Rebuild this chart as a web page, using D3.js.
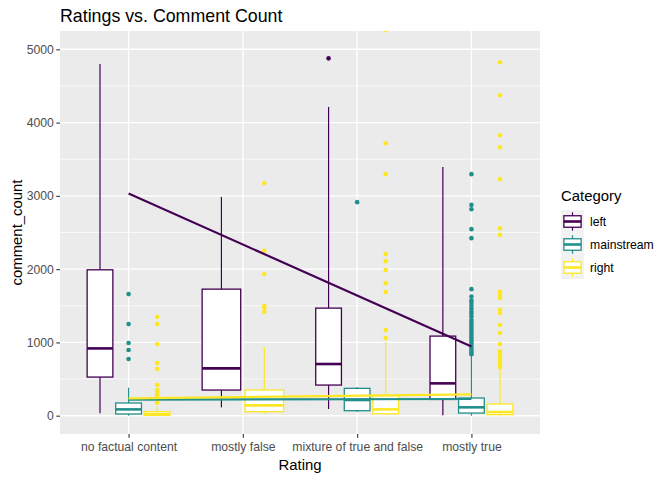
<!DOCTYPE html>
<html lang="en">
<head>
<meta charset="utf-8" />
<title>Ratings vs. Comment Count</title>
<style>
  body { margin: 0; padding: 0; background: #fff; }
  svg text { font-family: "Liberation Sans", Arial, sans-serif; }
</style>
<script src="https://d3js.org/d3.v7.min.js"></script>
</head>
<body>
<div id="chart"></div>
<script>
// ratings on the x axis, groups in the legend
const ratings = ["no factual content", "mostly false", "mixture of true and false", "mostly true"];
const categories = ["left", "mainstream", "right"];
const colors = ["#440154", "#21908C", "#FDE725"];
const yTicks = [0, 1000, 2000, 3000, 4000, 5000];
const yMinor = [500, 1500, 2500, 3500, 4500];

// [lower whisker, q1, median, q3, upper whisker] per rating (null = no data)
const leftStats = [[32, 527, 918, 1991, 4800], [114, 350, 645, 1727, 2986], [91, 418, 705, 1468, 4214], [5, 222, 441, 1086, 3395]];
const mainstreamStats = [[0, 23, 86, 173, 382], null, [50, 68, 214, 373, 391], [0, 36, 114, 241, 818]];
const rightStats = [[0, 5, 20, 55, 123], [23, 55, 141, 350, 937], [14, 27, 86, 273, 1005], [0, 14, 50, 159, 636]];

const leftOutliers = [[], [], [4877], []];
const mainstreamOutliers = [
  [1659, 1250, 991, 896, 773],
  [],
  [2914],
  [3296, 2877, 2818, 2546, 2423, 1727, 1627, 1573, 1540, 1500, 1460, 1422, 1390, 1354, 1309, 1280,
   1250, 1220, 1190, 1160, 1130, 1100, 1070, 1040, 1010, 980, 950, 920, 890, 860, 840]
];
const rightOutliers = [
  [1346, 1250, 977, 718, 636, 418, 350, 330, 310, 290, 270, 230, 175],
  [3173, 2250, 1932, 1496, 1470, 1414],
  [5262, 3718, 3296, 2205, 2109, 1987, 1809, 1687, 1168, 1059],
  [4823, 4373, 3827, 3664, 3228, 2559, 2468, 1695, 1665, 1635, 1605, 1445, 1400, 1237, 1128, 977,
   877, 840, 800, 770, 740, 700, 660]
];

// linear fit per category, value at first and last rating
const leftFit = [3031, 945];
const mainstreamFit = [218, 228];
const rightFit = [236, 290];

const stats = [leftStats, mainstreamStats, rightStats];
const outliers = [leftOutliers, mainstreamOutliers, rightOutliers];
const fits = [leftFit, mainstreamFit, rightFit];

const W = 672, H = 480;
const panel = { left: 60, right: 540, top: 31, bottom: 434 };

const svg = d3.select("#chart").append("svg")
  .attr("width", W).attr("height", H);

const x = d3.scaleLinear().domain([0.4, ratings.length + 0.6]).range([panel.left, panel.right]);
const y = d3.scaleLinear().domain([-250, 5250]).range([panel.bottom, panel.top]);

svg.append("defs").append("clipPath").attr("id", "clip")
  .append("rect")
  .attr("x", panel.left).attr("y", panel.top)
  .attr("width", panel.right - panel.left).attr("height", panel.bottom - panel.top);

// panel background and grid
svg.append("rect")
  .attr("x", panel.left).attr("y", panel.top)
  .attr("width", panel.right - panel.left).attr("height", panel.bottom - panel.top)
  .attr("fill", "#EBEBEB");

svg.append("g").selectAll("line").data(yMinor).enter().append("line")
  .attr("x1", panel.left).attr("x2", panel.right)
  .attr("y1", d => y(d)).attr("y2", d => y(d))
  .attr("stroke", "#fff").attr("stroke-width", 0.7);

svg.append("g").selectAll("line").data(yTicks).enter().append("line")
  .attr("x1", panel.left).attr("x2", panel.right)
  .attr("y1", d => y(d)).attr("y2", d => y(d))
  .attr("stroke", "#fff").attr("stroke-width", 1.4);

svg.append("g").selectAll("line").data(ratings).enter().append("line")
  .attr("x1", (d, i) => x(i + 1)).attr("x2", (d, i) => x(i + 1))
  .attr("y1", panel.top).attr("y2", panel.bottom)
  .attr("stroke", "#fff").attr("stroke-width", 1.4);

// boxes, dodged within each rating
const boxes = [];
ratings.forEach((r, i) => {
  const present = categories.map((c, j) => j).filter(j => stats[j][i]);
  const n = present.length;
  present.forEach((j, k) => {
    const s = stats[j][i];
    boxes.push({
      cat: j,
      cx: i + 1 - 0.375 + (k + 0.5) * 0.75 / n,
      hw: 0.75 / n * 0.9 / 2,
      lo: s[0], q1: s[1], med: s[2], q3: s[3], hi: s[4],
      out: outliers[j][i]
    });
  });
});

const plot = svg.append("g").attr("clip-path", "url(#clip)");

const bx = plot.selectAll("g.box").data(boxes).enter().append("g").attr("class", "box");

bx.append("line")
  .attr("x1", d => x(d.cx)).attr("x2", d => x(d.cx))
  .attr("y1", d => y(d.q3)).attr("y2", d => y(d.hi))
  .attr("stroke", d => colors[d.cat]).attr("stroke-width", 1.2);
bx.append("line")
  .attr("x1", d => x(d.cx)).attr("x2", d => x(d.cx))
  .attr("y1", d => y(d.q1)).attr("y2", d => y(d.lo))
  .attr("stroke", d => colors[d.cat]).attr("stroke-width", 1.2);
bx.append("rect")
  .attr("x", d => x(d.cx - d.hw)).attr("width", d => x(d.cx + d.hw) - x(d.cx - d.hw))
  .attr("y", d => y(d.q3)).attr("height", d => y(d.q1) - y(d.q3))
  .attr("fill", "#fff").attr("stroke", d => colors[d.cat]).attr("stroke-width", 1.3);
bx.append("line")
  .attr("x1", d => x(d.cx - d.hw)).attr("x2", d => x(d.cx + d.hw))
  .attr("y1", d => y(d.med)).attr("y2", d => y(d.med))
  .attr("stroke", d => colors[d.cat]).attr("stroke-width", 2.6);
bx.selectAll("circle").data(d => d.out.map(v => ({ v: v, cx: d.cx, cat: d.cat }))).enter()
  .append("circle")
  .attr("cx", d => x(d.cx)).attr("cy", d => y(d.v)).attr("r", 2.3)
  .attr("fill", d => colors[d.cat]);

// linear trend lines
const line = d3.line().x(d => x(d[0])).y(d => y(d[1]));
plot.selectAll("path.fit").data(fits).enter().append("path")
  .attr("class", "fit")
  .attr("d", f => line([[1, f[0]], [ratings.length, f[1]]]))
  .attr("fill", "none")
  .attr("stroke", (f, j) => colors[j]).attr("stroke-width", 2.2);

// axes
const yAxis = svg.append("g").attr("transform", `translate(${panel.left},0)`)
  .call(d3.axisLeft(y).tickValues(yTicks).tickSize(3.7).tickPadding(2.5).tickFormat(d3.format("d")));
const xAxis = svg.append("g").attr("transform", `translate(0,${panel.bottom})`)
  .call(d3.axisBottom(x).tickValues(ratings.map((r, i) => i + 1)).tickSize(3.7).tickPadding(4.5)
    .tickFormat((d, i) => ratings[i]));
[yAxis, xAxis].forEach(a => {
  a.select(".domain").remove();
  a.selectAll(".tick line").attr("stroke", "#333").attr("stroke-width", 1.1);
  a.selectAll(".tick text").attr("fill", "#4D4D4D").attr("font-size", "12.2px")
    .style("font-family", "'Liberation Sans', Arial, sans-serif");
});

// titles
svg.append("text").attr("x", panel.left).attr("y", 22)
  .attr("font-size", "17.8px").attr("fill", "#000").text("Ratings vs. Comment Count");
svg.append("text").attr("x", (panel.left + panel.right) / 2).attr("y", 470)
  .attr("text-anchor", "middle").attr("font-size", "14.9px").attr("fill", "#000").text("Rating");
svg.append("text")
  .attr("transform", `translate(22,${(panel.top + panel.bottom) / 2}) rotate(-90)`)
  .attr("text-anchor", "middle").attr("font-size", "14.9px").attr("fill", "#000").text("comment_count");

// legend
const key = 23, lx = 561, ly = 210;
const legend = svg.append("g");
legend.append("text").attr("x", lx).attr("y", 201)
  .attr("font-size", "14.9px").attr("fill", "#000").text("Category");
const items = legend.selectAll("g.item").data(categories).enter().append("g")
  .attr("class", "item")
  .attr("transform", (d, i) => `translate(${lx},${ly + i * key})`);
items.append("rect").attr("width", key).attr("height", key).attr("fill", "#F2F2F2");
items.append("line").attr("x1", key / 2).attr("x2", key / 2).attr("y1", key * 0.1).attr("y2", key * 0.9)
  .attr("stroke", (d, i) => colors[i]).attr("stroke-width", 1.2);
items.append("rect").attr("x", key * 0.125).attr("y", key * 0.25)
  .attr("width", key * 0.75).attr("height", key * 0.5)
  .attr("fill", "#fff").attr("stroke", (d, i) => colors[i]).attr("stroke-width", 1.3);
items.append("line").attr("x1", key * 0.125).attr("x2", key * 0.875).attr("y1", key / 2).attr("y2", key / 2)
  .attr("stroke", (d, i) => colors[i]).attr("stroke-width", 2.6);
items.append("text").attr("x", key + 6).attr("y", key / 2).attr("dy", "0.35em")
  .attr("font-size", "12.2px").attr("fill", "#000").text(d => d);
</script>
</body>
</html>
